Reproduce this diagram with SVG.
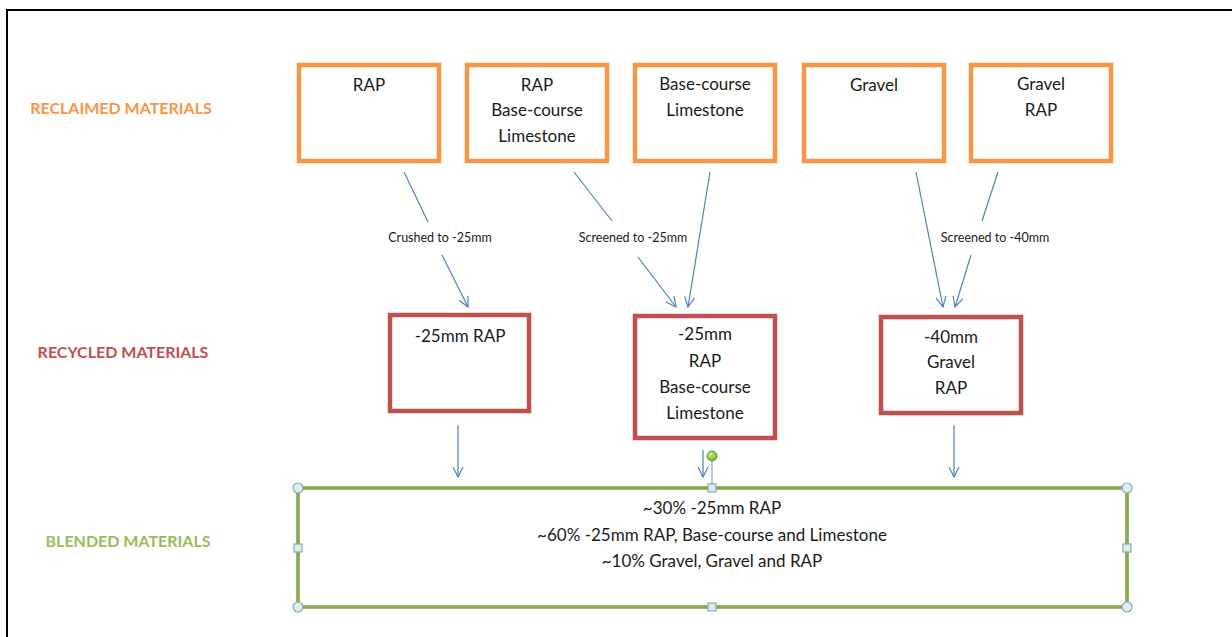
<svg xmlns="http://www.w3.org/2000/svg" width="1232" height="637" viewBox="0 0 1232 637">
<defs>
<style>
.t{font-family:Lato,"Open Sans","Liberation Sans",sans-serif;font-size:17px;fill:#1a1a1a;text-anchor:middle}
.lab{font-family:Lato,"Liberation Sans",sans-serif;font-size:12.5px;fill:#1a1a1a;text-anchor:middle}
.sec{font-family:Lato,"Liberation Sans",sans-serif;font-size:16px;font-weight:bold;text-anchor:middle}
.or{fill:#fff;stroke:#F79646;stroke-width:4.5}
.rd{fill:#fff;stroke:#C0504D;stroke-width:4.5}
.cn{stroke:#4F81BD;stroke-width:1.2;fill:none}
.hc{fill:#dcedf2;stroke:#8fa6b3;stroke-width:1.2}
</style>
<marker id="ah" viewBox="0 0 12 12" refX="11" refY="6" markerWidth="12" markerHeight="12" markerUnits="userSpaceOnUse" orient="auto">
<path d="M1,1 L11,6 L1,11" fill="none" stroke="#4F81BD" stroke-width="1.2"/>
</marker>
<radialGradient id="gg" cx="0.4" cy="0.35" r="0.7">
<stop offset="0" stop-color="#c8f08a"/>
<stop offset="1" stop-color="#66b32e"/>
</radialGradient>
</defs>
<rect width="1232" height="637" fill="#fff"/>
<g id="frame">
<path d="M7,637 L7,10 L1232,10" fill="none" stroke="#000" stroke-width="2"/>
</g>
<g id="section-labels">
<text class="sec" x="121" y="114" fill="#F79646">RECLAIMED MATERIALS</text>
<text class="sec" x="123" y="358" fill="#C0504D">RECYCLED MATERIALS</text>
<text class="sec" x="128" y="547" fill="#9BBB59">BLENDED MATERIALS</text>
</g>
<g id="connectors">
<path class="cn" d="M404,172 L428,222"/>
<path class="cn" d="M442,255 L468,307" marker-end="url(#ah)"/>
<text class="lab" x="440" y="242">Crushed to -25mm</text>
<path class="cn" d="M574,172 L612,221"/>
<path class="cn" d="M638,257 L676,307" marker-end="url(#ah)"/>
<text class="lab" x="633" y="242">Screened to -25mm</text>
<path class="cn" d="M710,172 L688,307" marker-end="url(#ah)"/>
<path class="cn" d="M916,172 L943,307" marker-end="url(#ah)"/>
<path class="cn" d="M998,172 L982,221"/>
<path class="cn" d="M971,255 L955,307" marker-end="url(#ah)"/>
<text class="lab" x="995" y="242">Screened to -40mm</text>
<path class="cn" d="M458,425 L458,477" marker-end="url(#ah)"/>
<path class="cn" d="M703,450 L703,477" marker-end="url(#ah)"/>
<path class="cn" d="M954,425 L954,477" marker-end="url(#ah)"/>
</g>
<g id="reclaimed-rap">
<rect class="or" x="299" y="65" width="140" height="96"/>
<text class="t" x="369" y="91">RAP</text>
</g>
<g id="reclaimed-rap-base-lime">
<rect class="or" x="467" y="65" width="140" height="96"/>
<text class="t" x="537" y="91">RAP</text>
<text class="t" x="537" y="116">Base-course</text>
<text class="t" x="537" y="142">Limestone</text>
</g>
<g id="reclaimed-base-lime">
<rect class="or" x="635" y="65" width="140" height="96"/>
<text class="t" x="705" y="90">Base-course</text>
<text class="t" x="705" y="116">Limestone</text>
</g>
<g id="reclaimed-gravel">
<rect class="or" x="804" y="65" width="140" height="96"/>
<text class="t" x="874" y="91">Gravel</text>
</g>
<g id="reclaimed-gravel-rap">
<rect class="or" x="971" y="65" width="140" height="96"/>
<text class="t" x="1041" y="90">Gravel</text>
<text class="t" x="1041" y="116">RAP</text>
</g>
<g id="recycled-25-rap">
<rect class="rd" x="390" y="315" width="139" height="96"/>
<text class="t" x="460" y="342">-25mm RAP</text>
</g>
<g id="recycled-25-mix">
<rect class="rd" x="635" y="316" width="140" height="122"/>
<text class="t" x="705" y="340">-25mm</text>
<text class="t" x="705" y="367">RAP</text>
<text class="t" x="705" y="393">Base-course</text>
<text class="t" x="705" y="419">Limestone</text>
</g>
<g id="recycled-40-mix">
<rect class="rd" x="881" y="317" width="140" height="96"/>
<text class="t" x="951" y="343">-40mm</text>
<text class="t" x="951" y="368">Gravel</text>
<text class="t" x="951" y="394">RAP</text>
</g>
<g id="blended">
<rect x="298" y="488" width="829" height="119" fill="#fff" stroke="#9BBB59" stroke-width="4"/>
<rect x="298" y="488" width="829" height="119" fill="none" stroke="#7a8f6a" stroke-width="1"/>
<text class="t" x="712" y="514">~30% -25mm RAP</text>
<text class="t" x="712" y="541">~60% -25mm RAP, Base-course and Limestone</text>
<text class="t" x="712" y="567">~10% Gravel, Gravel and RAP</text>
<line x1="712" y1="460" x2="712" y2="484" stroke="#8fa6b3" stroke-width="1.2"/>
<circle cx="712" cy="456" r="5" fill="url(#gg)" stroke="#5a9a2a" stroke-width="1"/>
<circle class="hc" cx="298" cy="488" r="5"/>
<circle class="hc" cx="1127" cy="488" r="5"/>
<circle class="hc" cx="298" cy="607" r="5"/>
<circle class="hc" cx="1127" cy="607" r="5"/>
<rect class="hc" x="708" y="484" width="8" height="8"/>
<rect class="hc" x="708" y="603" width="8" height="8"/>
<rect class="hc" x="294" y="544" width="8" height="8"/>
<rect class="hc" x="1123" y="544" width="8" height="8"/>
</g>
</svg>
